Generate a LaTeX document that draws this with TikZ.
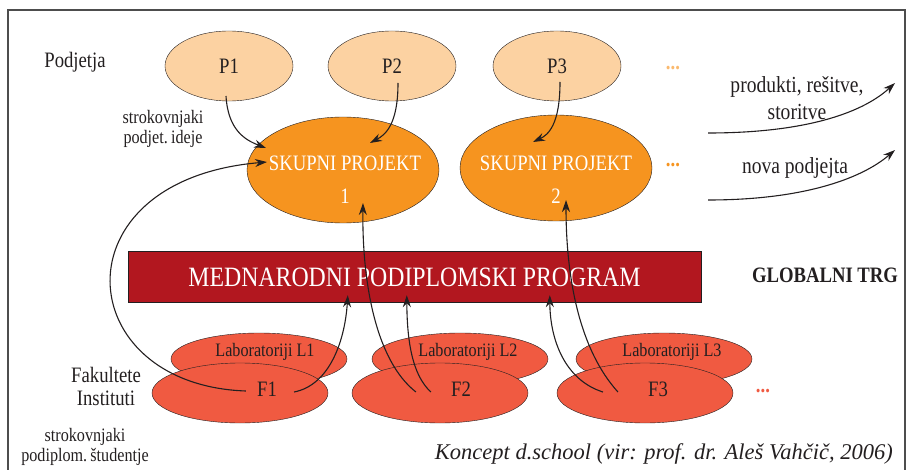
\documentclass[tikz,border=0pt]{standalone}
\usepackage{fontspec}
\setmainfont{Liberation Serif}[FakeStretch=0.85]
\newfontfamily\creditfont{Liberation Serif}
\usetikzlibrary{shapes.geometric,arrows.meta,calc}
\definecolor{peach}{HTML}{FCD2A2}
\definecolor{projorange}{HTML}{F6941F}
\definecolor{progred}{HTML}{B2171F}
\definecolor{facred}{HTML}{F05A41}
\definecolor{ink}{HTML}{231F20}
\definecolor{framegray}{HTML}{4D4D4D}

\tikzset{
  company/.style={ellipse, draw=ink, fill=peach, minimum width=128pt, minimum height=70pt, inner sep=0pt, text=ink, font=\fontsize{22}{22}\selectfont},
  project/.style={ellipse, draw=ink, fill=projorange, minimum width=192pt, minimum height=106pt, inner sep=0pt},
  lab/.style={ellipse, draw=ink, fill=facred, minimum width=176pt, minimum height=52pt, inner sep=0pt},
  faculty/.style={lab, minimum height=60pt},
  txt/.style={inner sep=0pt, text=ink, align=center, font=\fontsize{#1}{#1}\selectfont},
  txt/.default=22,
  wtxt/.style={txt=#1, text=white},
  wtxt/.default=22,
  flow/.style={-{Stealth[length=12pt,width=8pt]}, line width=1.1pt, ink},
  more/.style={inner sep=0pt, font=\fontsize{22}{22}\selectfont\bfseries}
}

\begin{document}
\begin{tikzpicture}[x=1pt,y=-1pt]
    \useasboundingbox (0,0) rectangle (910,470);
    \draw[framegray, line width=1.8pt] (8,475) -- (8,10) -- (905,10) -- (905,475);

    % companies and joint projects
    \node[company] (p1) at (229,66) {P1};
    \node[company] (p2) at (392,66) {P2};
    \node[company] (p3) at (557,66) {P3};
    \node[more, peach!60!projorange] (pdots) at (673,68) {...};
    \node[project] (sp1) at (343,170) {};
    \node[project] (sp2) at (556,168) {};
    \node[wtxt] (sp1txt) at (345,180) {SKUPNI PROJEKT\\[11pt]1};
    \node[wtxt] (sp2txt) at (556,180) {SKUPNI PROJEKT\\[11pt]2};
    \node[more, projorange] (spdots) at (673,165) {...};

    \node[txt] (podjetja) at (75,62) {Podjetja};
    \node[txt=19] (strok1) at (163,129) {strokovnjaki\\[1pt]podjet.\,ideje};

    % programme bar
    \node[draw=ink, fill=progred, minimum width=573pt, minimum height=51pt, inner sep=0pt] (prog) at (414.5,276.5) {};
    \node[wtxt=28] (progtxt) at (414.5,277) {MEDNARODNI PODIPLOMSKI PROGRAM};
    \node[txt, font=\fontsize{22}{22}\selectfont\bfseries] (trg) at (825,275) {GLOBALNI TRG};

    % faculties with their labs
    \node[lab] (l1) at (259,359) {};
    \node[lab] (l2) at (460,359) {};
    \node[lab] (l3) at (664,359) {};
    \node[faculty] (f1) at (240,393) {};
    \node[faculty] (f2) at (440,393) {};
    \node[faculty] (f3) at (645,393) {};
    \node[txt=19] (l1txt) at (265,352) {Laboratoriji L1};
    \node[txt=19] (l2txt) at (468,352) {Laboratoriji L2};
    \node[txt=19] (l3txt) at (672,352) {Laboratoriji L3};
    \node[txt] (f1txt) at (267,389) {F1};
    \node[txt] (f2txt) at (461,389) {F2};
    \node[txt] (f3txt) at (658,389) {F3};
    \node[more, facred] (fdots) at (763,391) {...};

    \node[txt] (fak) at (106,386) {Fakultete\\[1pt]Instituti};
    \node[txt=19] (strok2) at (85,447) {strokovnjaki\\[1pt]podiplom.\,študentje};
    \node[txt, anchor=east, font=\creditfont\itshape\fontsize{22.5}{22.5}\selectfont] (vir) at (893,454) {Koncept d.school (vir: prof. dr. Aleš Vahčič, 2006)};

    % results on the market
    \node[txt=23] (izid) at (797,98) {produkti, rešitve,\\[4pt]storitve};
    \node[txt=23] (nova) at (795,168) {nova podjejta};
    \coordinate (izid0) at (708,133);
    \coordinate (izid1) at (895,83);
    \coordinate (nova0) at (708,200);
    \coordinate (nova1) at (895,150);
    \draw[flow] (izid0) .. controls ($(izid0)+(92,0)$) and ($(izid1)+(-35,32)$) .. (izid1);
    \draw[flow] (nova0) .. controls ($(nova0)+(92,0)$) and ($(nova1)+(-35,30)$) .. (nova1);

    % experts into the projects
    \draw[flow] ($(p1)+(-3,30)$) .. controls ($(p1)+(-1,64)$) and ($(sp1)+(-98,-30)$) .. ($(sp1)+(-77,-22)$);
    \draw[flow] ($(p2)+(6,17)$) .. controls ($(p2)+(6,59)$) and ($(sp1)+(42,-35)$) .. ($(sp1)+(27,-27)$);
    \draw[flow] ($(p3)+(3,16)$) .. controls ($(p3)+(3,59)$) and ($(sp2)+(-8,-33)$) .. ($(sp2)+(-23,-26)$);

    % students into the programme and projects
    \draw[flow] ($(f1txt.west)+(-11,2)$) .. controls (70,385) and (55,180) .. ($(sp1)+(-76,-8)$);
    \draw[flow] ($(f1txt.east)+(17,3)$) .. controls (330,385) and (345,340) .. ($(prog.south west)+(220,-7)$);
    \draw[flow] ($(f2txt.west)+(-35,3)$) .. controls (375,360) and (362,280) .. ($(sp1)+(20,33)$);
    \draw[flow] ($(f2txt.west)+(-20,3)$) .. controls (412,375) and (407,340) .. ($(prog.south west)+(279,-7)$);
    \draw[flow] ($(f3txt.west)+(-30,3)$) .. controls (580,350) and (566,280) .. ($(sp2)+(10,32)$);
    \draw[flow] ($(f3txt.west)+(-45,3)$) .. controls (565,380) and (550,340) .. ($(prog.south west)+(422,-7)$);
\end{tikzpicture}
\end{document}
